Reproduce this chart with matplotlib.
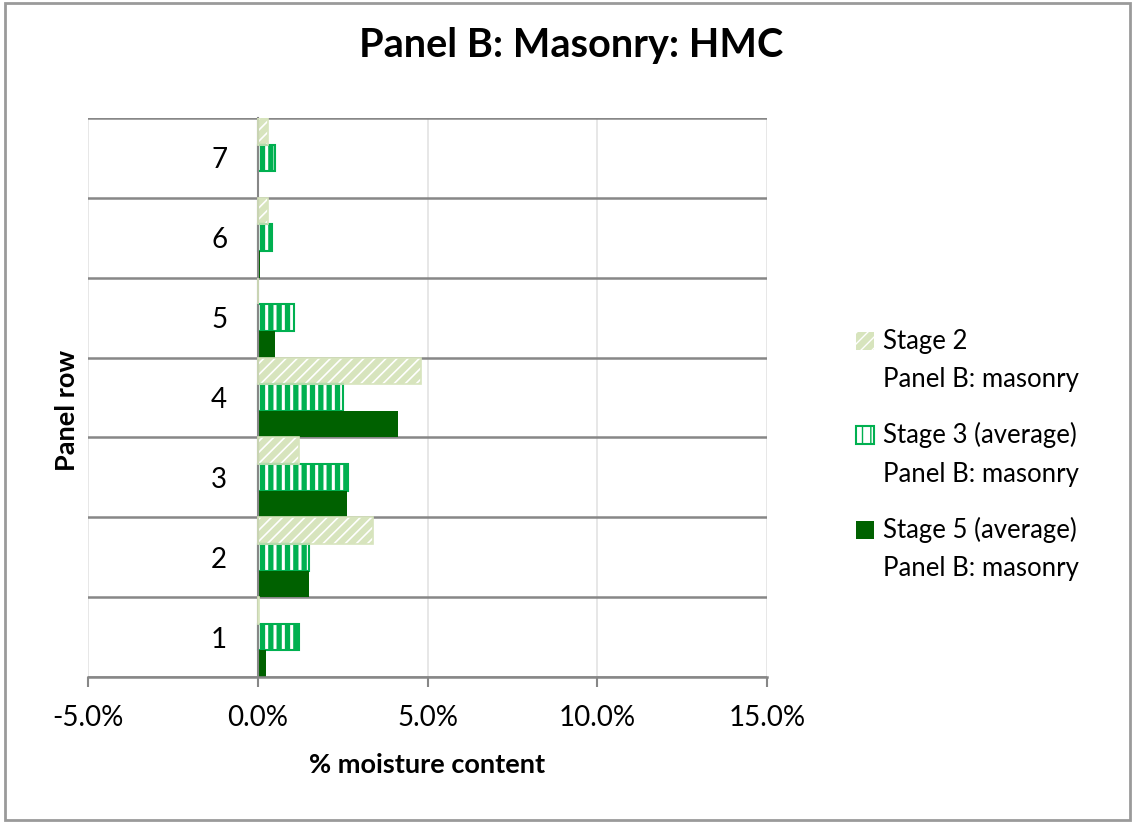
import matplotlib
matplotlib.use("Agg")
import matplotlib.pyplot as plt
from matplotlib.patches import Rectangle
from matplotlib.legend_handler import HandlerPatch
import numpy as np

plt.rcParams['font.family'] = ['Lato', 'DejaVu Sans']

rows = [1, 2, 3, 4, 5, 6, 7]
stage2 = [0.05, 3.38, 1.21, 4.82, 0.0, 0.3, 0.3]
stage3 = [1.22, 1.51, 2.67, 2.52, 1.06, 0.43, 0.5]
stage5 = [0.25, 1.51, 2.62, 4.13, 0.5, 0.08, 0.0]
labels = ["Stage 2\nPanel B: masonry",
          "Stage 3 (average)\nPanel B: masonry",
          "Stage 5 (average)\nPanel B: masonry"]

light = '#D7E4BD'
mid = '#00B050'
dark = '#006100'
grey = '#878787'

fig = plt.figure(figsize=(11.35, 8.23), dpi=100)
ax = fig.add_axes([88 / 1135, 1 - 677 / 823, (767 - 88) / 1135, (677 - 118) / 823])

y = np.array(rows, dtype=float)
h = 1 / 3

# stage 2: light green with white diagonal stripes
with plt.rc_context({'hatch.linewidth': 1.2}):
    b2 = ax.barh(y + h, stage2, height=h, color=light, edgecolor='white',
                 hatch='///', linewidth=0, zorder=2)
ax.barh(y + h, stage2, height=h, facecolor='none', edgecolor=light,
        linewidth=1.2, zorder=3)

# stage 3: green vertical stripes
with plt.rc_context({'hatch.linewidth': 3.8}):
    b3 = ax.barh(y, stage3, height=h, color='white', edgecolor=mid,
                 hatch='||', linewidth=1.5, zorder=2)

# stage 5: solid dark green
b5 = ax.barh(y - h, stage5, height=h, color=dark, linewidth=0, zorder=2)

ax.spines['top'].set_visible(False)
ax.spines['right'].set_visible(False)
ax.spines['left'].set_position(('data', 0))
ax.spines['left'].set_color(grey)
ax.spines['left'].set_linewidth(1.5)
ax.spines['bottom'].set_color(grey)
ax.spines['bottom'].set_linewidth(1.8)

ax.set_xlim(-5, 15)
ax.set_ylim(0.5, 7.5)
ax.set_xticks([-5, 0, 5, 10, 15])
ax.set_xticklabels([f"{v:.1f}%" for v in [-5, 0, 5, 10, 15]])
ax.set_yticks(rows)
ax.set_yticklabels([str(r) for r in rows])
ax.set_yticks(np.arange(0.5, 7.6, 1), minor=True)

ax.grid(axis='x', which='major', color='#E3E3E3', linewidth=1.2, zorder=0)
ax.grid(axis='y', which='minor', color=grey, linewidth=1.8, zorder=1)
ax.set_axisbelow(True)

ax.tick_params(axis='y', which='both', length=0, pad=22, labelsize=20)
ax.tick_params(axis='x', length=7, width=1.5, color=grey, pad=13, labelsize=20)

fig.text(427 / 1135, 1 - 765 / 823, "% moisture content", fontsize=19.5,
         fontweight='bold', ha='center', va='center')
fig.text(67 / 1135, 1 - 410 / 823, "Panel row", rotation=90, fontsize=19.5,
         fontweight='bold', ha='center', va='center')

fig.text(571 / 1135, 1 - 57 / 823, "Panel B: Masonry: HMC", fontsize=28.5,
         fontweight='bold', ha='center', va='baseline')


def first_line_patch(legend, orig_handle, xdescent, ydescent, width, height, fontsize):
    return Rectangle((-xdescent, -ydescent + fontsize * 0.8), width, height)


handles = [b2.patches[0], b3.patches[0], b5.patches[0]]
leg = fig.legend(handles, labels, loc='upper left',
                 bbox_to_anchor=(843 / 1135, 1 - 316 / 823), frameon=False,
                 fontsize=18.5, handlelength=0.7, handleheight=0.7,
                 handletextpad=0.35, labelspacing=1.18, borderpad=0,
                 handler_map={hd: HandlerPatch(patch_func=first_line_patch)
                              for hd in handles})
for t in leg.get_texts():
    t.set_linespacing(1.66)

fig.patches.append(Rectangle((0.004, 0.004), 0.992, 0.992, transform=fig.transFigure,
                             fill=False, edgecolor='#9A9A9A', linewidth=2))

fig.savefig("out.png", dpi=100)
